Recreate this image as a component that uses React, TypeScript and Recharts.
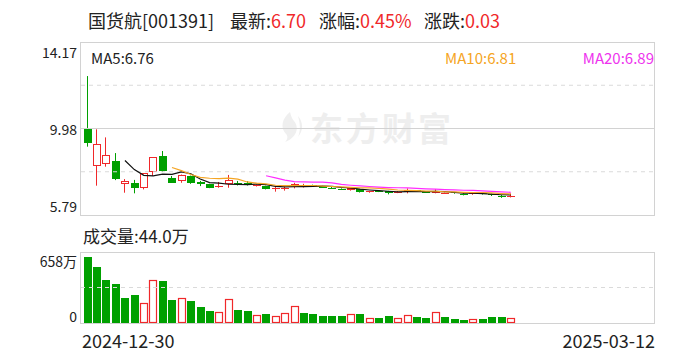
import React from "react";
import { ComposedChart, Bar, Line, XAxis, YAxis, ReferenceLine } from "recharts";

// 国货航 001391 daily candles, 2024-12-30 .. 2025-03-12
const dates = [
  "2024-12-30", "2024-12-31", "2025-01-02", "2025-01-03", "2025-01-06", "2025-01-07", "2025-01-08",
  "2025-01-09", "2025-01-10", "2025-01-13", "2025-01-14", "2025-01-15", "2025-01-16", "2025-01-17",
  "2025-01-20", "2025-01-21", "2025-01-22", "2025-01-23", "2025-01-24", "2025-01-27", "2025-02-05",
  "2025-02-06", "2025-02-07", "2025-02-10", "2025-02-11", "2025-02-12", "2025-02-13", "2025-02-14",
  "2025-02-17", "2025-02-18", "2025-02-19", "2025-02-20", "2025-02-21", "2025-02-24", "2025-02-25",
  "2025-02-26", "2025-02-27", "2025-02-28", "2025-03-03", "2025-03-04", "2025-03-05", "2025-03-06",
  "2025-03-07", "2025-03-10", "2025-03-11", "2025-03-12",
];
const opens = [
  9.99, 8.15, 8.25, 8.41, 7.28, 7.33, 7.08, 7.86, 8.65, 7.58, 7.44, 7.68, 7.40, 7.29, 7.17, 7.28,
  7.35, 7.35, 7.22, 7.21, 7.04, 7.05, 7.19, 7.17, 7.24, 7.17, 7.12, 7.06, 6.99, 7.03, 6.90, 6.97,
  6.95, 6.88, 6.92, 6.98, 6.92, 6.87, 6.83, 6.88, 6.82, 6.79, 6.86, 6.81, 6.73, 6.66,
];
const highs = [
  12.52, 9.94, 9.55, 8.79, 7.53, 7.49, 7.81, 8.58, 8.89, 7.68, 7.75, 7.70, 7.44, 7.30, 7.39, 7.73,
  7.44, 7.43, 7.27, 7.21, 7.18, 7.18, 7.35, 7.30, 7.26, 7.20, 7.15, 7.08, 7.10, 7.05, 6.96, 6.99,
  6.96, 6.95, 7.08, 7.00, 6.94, 7.04, 6.88, 6.90, 6.84, 6.88, 6.88, 6.82, 6.76, 6.83,
];
const lows = [
  9.10, 7.21, 8.13, 7.48, 6.87, 6.84, 7.03, 7.68, 7.87, 7.35, 7.35, 7.30, 7.19, 7.09, 7.11, 7.11,
  7.22, 7.22, 7.17, 7.03, 6.92, 6.97, 7.08, 7.12, 7.16, 7.10, 7.05, 7.00, 6.97, 6.88, 6.87, 6.90,
  6.79, 6.85, 6.84, 6.92, 6.86, 6.84, 6.81, 6.82, 6.74, 6.77, 6.78, 6.71, 6.62, 6.64,
];
const closes = [
  9.29, 9.21, 8.68, 7.55, 7.42, 7.11, 7.81, 8.58, 7.94, 7.35, 7.71, 7.35, 7.29, 7.11, 7.20, 7.47,
  7.28, 7.24, 7.25, 7.05, 7.10, 7.11, 7.28, 7.24, 7.19, 7.13, 7.08, 7.03, 7.08, 6.90, 6.93, 6.92,
  6.86, 6.92, 6.99, 6.95, 6.88, 6.92, 6.86, 6.84, 6.76, 6.86, 6.81, 6.75, 6.67, 6.70,
];
// 成交量, 万手
const volumes = [
  612, 520, 401, 364, 236, 263, 187, 401, 392, 217, 233, 208, 144, 107, 104, 223, 125, 107, 77, 80,
  67, 95, 159, 90, 82, 64, 64, 64, 79, 82, 43, 46, 64, 43, 70, 55, 46, 98, 55, 37, 27, 34, 37, 55,
  55, 44,
];
const ma5 = [
  null, null, null, null, 8.43, 7.99, 7.71, 7.69, 7.77, 7.76, 7.88, 7.79, 7.53, 7.36, 7.33, 7.28,
  7.27, 7.26, 7.29, 7.26, 7.18, 7.15, 7.16, 7.16, 7.18, 7.19, 7.18, 7.13, 7.10, 7.04, 7.00, 6.97,
  6.94, 6.91, 6.92, 6.93, 6.92, 6.93, 6.92, 6.89, 6.85, 6.85, 6.83, 6.80, 6.77, 6.76,
];
const ma10 = [
  null, null, null, null, null, null, null, null, null, 8.09, 7.94, 7.75, 7.61, 7.57, 7.55, 7.58,
  7.53, 7.39, 7.33, 7.30, 7.23, 7.21, 7.21, 7.22, 7.22, 7.19, 7.17, 7.15, 7.13, 7.11, 7.10, 7.08,
  7.04, 7.00, 6.98, 6.97, 6.95, 6.94, 6.91, 6.91, 6.89, 6.88, 6.88, 6.86, 6.83, 6.81,
];
const ma20 = [
  null, null, null, null, null, null, null, null, null, null, null, null, null, null, null, null,
  null, null, null, 7.69, 7.59, 7.48, 7.41, 7.39, 7.38, 7.38, 7.35, 7.27, 7.23, 7.20, 7.17, 7.14,
  7.12, 7.11, 7.10, 7.08, 7.06, 7.04, 7.02, 7.01, 6.99, 6.98, 6.96, 6.93, 6.91, 6.89,
];

const priceTicks = [5.79, 9.98, 14.17];
const priceDashed = [7.885, 12.075];
const volTicks = [0, 658];

const RED = "#f0282a";
const GREEN = "#00a000";
const FONT = '"Microsoft YaHei", "Noto Sans CJK SC", sans-serif';

// 61 day slots across the frame, data fills the first 46
const PLOT_W = 574;
const SLOTS = 61;
const slot = PLOT_W / SLOTS;
const padL = 1.6;
const padR = PLOT_W - padL - dates.length * slot;

const rows = dates.map((date, i) => ({
  date,
  open: opens[i],
  high: highs[i],
  low: lows[i],
  close: closes[i],
  vol: volumes[i],
  ma5: ma5[i],
  ma10: ma10[i],
  ma20: ma20[i],
  volUp: i === 0 ? closes[i] >= opens[i] : closes[i] >= closes[i - 1],
}));

function Candle(props: any) {
  const { x, y, width, height, payload } = props;
  if (!payload || payload.open == null) return null;
  const { open, close, high, low } = payload;
  const top = Math.min(y, y + height);
  const bottom = Math.max(y, y + height);
  const k = high > low ? (bottom - top) / (high - low) : 0;
  const py = (v: number) => top + (high - v) * k;
  const up = close >= open;
  const color = up ? RED : GREEN;
  const bx = Math.round(x);
  const cx = bx + Math.floor(width / 2) - 0.5;
  const b1 = Math.round(py(Math.max(open, close)));
  const b2 = Math.round(py(Math.min(open, close)));
  const bh = Math.max(1, b2 - b1);
  return (
    <g>
      <line x1={cx} x2={cx} y1={top} y2={bottom} stroke={color} strokeWidth={1} />
      {up && bh >= 2 ? (
        <rect x={bx + 0.5} y={b1 + 0.5} width={width - 1} height={bh - 1} fill="#fff" stroke={color} strokeWidth={1} />
      ) : (
        <rect x={bx} y={b1} width={width} height={bh} fill={color} />
      )}
    </g>
  );
}

function VolBar(props: any) {
  const { x, y, width, height, payload } = props;
  if (!payload) return null;
  const bx = Math.round(x);
  const top = Math.round(y);
  const h = Math.max(1, Math.round(y + height) - top);
  if (payload.volUp) {
    return <rect x={bx + 0.5} y={top + 0.5} width={width - 1} height={Math.max(0, h - 1)} fill="#fff" stroke={RED} strokeWidth={1.2} />;
  }
  return <rect x={bx} y={top} width={width} height={h} fill={GREEN} />;
}

function PriceTick(props: any) {
  const { x, y, payload } = props;
  const v = payload.value;
  const dy = v === priceTicks[2] ? 10 : v === priceTicks[0] ? -9 : 0;
  return (
    <text x={x} y={y + dy} textAnchor="end" dominantBaseline="central" fontSize={14} fill="#222" fontFamily={FONT}>
      {v.toFixed(2)}
    </text>
  );
}

function VolTick(props: any) {
  const { x, y, payload } = props;
  const v = payload.value;
  const dy = v === volTicks[1] ? 9 : -7;
  return (
    <text x={x} y={y + dy} textAnchor="end" dominantBaseline="central" fontSize={14} fill="#222" fontFamily={FONT}>
      {v === 0 ? "0" : `${v}万`}
    </text>
  );
}

const abs = (style: React.CSSProperties): React.CSSProperties => ({ position: "absolute", whiteSpace: "nowrap", ...style });

export default function App() {
  const n = closes.length;
  const last = closes[n - 1];
  const chg = last - closes[n - 2];
  const pct = (chg / closes[n - 2]) * 100;

  return (
    <div style={{ position: "absolute", left: 0, top: 0, width: 688, height: 360, background: "#fff", fontFamily: FONT, color: "#222", overflow: "hidden" }}>
      {/* title */}
      <div style={abs({ left: 88, top: 8, fontSize: 18, lineHeight: "24px" })}>国货航[001391]</div>
      <div style={abs({ left: 230, top: 8, fontSize: 18, lineHeight: "24px" })}>
        最新:<span style={{ color: RED }}>{last.toFixed(2)}</span>
      </div>
      <div style={abs({ left: 319, top: 8, fontSize: 18, lineHeight: "24px" })}>
        涨幅:<span style={{ color: RED }}>{pct.toFixed(2)}%</span>
      </div>
      <div style={abs({ left: 424, top: 8, fontSize: 18, lineHeight: "24px" })}>
        涨跌:<span style={{ color: RED }}>{chg.toFixed(2)}</span>
      </div>

      {/* watermark */}
      <svg style={abs({ left: 276, top: 110 })} width={30} height={34}>
        <path d="M14 2 C6 8 4 18 10 24 C12 26 12 29 9 32 C20 28 24 18 18 11 C16 9 15 6 14 2 Z" fill="#efefef" />
        <path d="M22 6 C27 12 28 20 22 27 C25 20 24 13 22 6 Z" fill="#efefef" />
      </svg>
      <div style={abs({ left: 310, top: 109, fontSize: 33, fontWeight: 700, color: "#eeeeee", lineHeight: "36px", letterSpacing: 3 })}>东方财富</div>

      {/* frames */}
      <div style={abs({ left: 80, top: 42, width: 575, height: 174, border: "1px solid #d2d2d2", boxSizing: "border-box" })} />
      <div style={abs({ left: 80, top: 252, width: 575, height: 72, border: "1px solid #d2d2d2", boxSizing: "border-box" })} />

      <div style={abs({ left: 0, top: 0 })}>
        <ComposedChart width={688} height={230} data={rows} margin={{ top: 42, right: 33, bottom: 15, left: 0 }}>
          <XAxis dataKey="date" hide padding={{ left: padL, right: padR }} />
          <YAxis
            width={81}
            domain={[priceTicks[0], priceTicks[2]]}
            ticks={priceTicks}
            allowDataOverflow
            axisLine={false}
            tickLine={false}
            tickSize={0}
            tickMargin={4}
            tick={<PriceTick />}
          />
          <ReferenceLine y={priceTicks[1]} stroke="#d2d2d2" />
          {priceDashed.map((v) => (
            <ReferenceLine key={v} y={v} stroke="#dadada" strokeDasharray="4 4" />
          ))}
          <Bar dataKey={(d: any) => [d.low, d.high]} barSize={8} shape={<Candle />} isAnimationActive={false} />
          <Line dataKey="ma5" stroke="#111" strokeWidth={1.2} dot={false} isAnimationActive={false} />
          <Line dataKey="ma10" stroke="#f5a524" strokeWidth={1.2} dot={false} isAnimationActive={false} />
          <Line dataKey="ma20" stroke="#ff2dff" strokeWidth={1.2} dot={false} isAnimationActive={false} />
        </ComposedChart>
      </div>

      {/* MA legend */}
      <div style={abs({ left: 91, top: 49, fontSize: 15, lineHeight: "18px", color: "#222" })}>MA5:{ma5[n - 1]!.toFixed(2)}</div>
      <div style={abs({ left: 445, top: 49, fontSize: 15, lineHeight: "18px", color: "#f5a524" })}>MA10:{ma10[n - 1]!.toFixed(2)}</div>
      <div style={abs({ right: 34, top: 49, fontSize: 15, lineHeight: "18px", color: "#ee33ee" })}>MA20:{ma20[n - 1]!.toFixed(2)}</div>

      <div style={abs({ left: 83, top: 224, fontSize: 17, lineHeight: "24px" })}>成交量:{volumes[n - 1].toFixed(1)}万</div>

      <div style={abs({ left: 0, top: 240 })}>
        <ComposedChart width={688} height={100} data={rows} margin={{ top: 12, right: 33, bottom: 17, left: 0 }}>
          <XAxis dataKey="date" hide padding={{ left: padL, right: padR }} />
          <YAxis
            width={81}
            domain={[volTicks[0], volTicks[1]]}
            ticks={volTicks}
            allowDataOverflow
            axisLine={false}
            tickLine={false}
            tickSize={0}
            tickMargin={4}
            tick={<VolTick />}
          />
          <ReferenceLine y={volTicks[1] / 2} stroke="#dadada" strokeDasharray="4 4" />
          <Bar dataKey="vol" barSize={8} shape={<VolBar />} isAnimationActive={false} />
        </ComposedChart>
      </div>

      {/* date labels */}
      <div style={abs({ left: 82, top: 328, fontSize: 18, lineHeight: "24px" })}>{dates[0]}</div>
      <div style={abs({ right: 33, top: 328, fontSize: 18, lineHeight: "24px" })}>{dates[n - 1]}</div>
    </div>
  );
}
